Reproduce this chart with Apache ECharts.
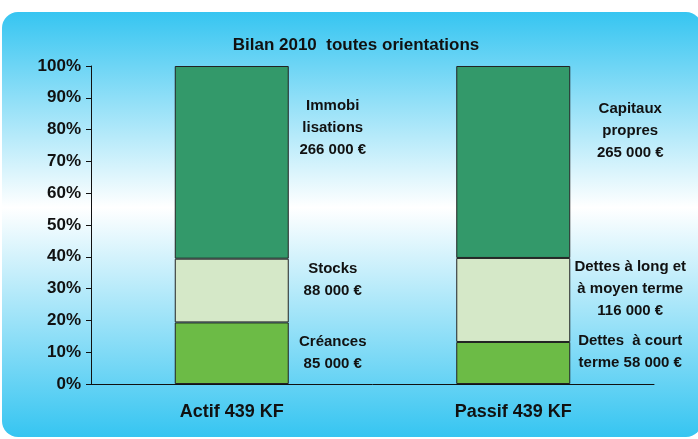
<!DOCTYPE html>
<html>
<head>
<meta charset="utf-8">
<script src="https://cdn.jsdelivr.net/npm/echarts@6/dist/echarts.min.js"></script>
<style>
  html, body { margin: 0; padding: 0; background: #fff; }
  #chart { width: 698px; height: 439px; }
</style>
</head>
<body>
<div id="chart"></div>
<script>
// bilan en milliers d'euros
const categories = ['Actif 439 KF', 'Passif 439 KF'];
const bottomValues = [85, 58];    // créances / dettes à court terme
const middleValues = [88, 116];   // stocks / dettes à long et moyen terme
const topValues = [266, 265];     // immobilisations / capitaux propres
const bottomLabels = ['Créances\n85 000 €', 'Dettes  à court\nterme 58 000 €'];
const middleLabels = ['Stocks\n88 000 €', 'Dettes à long et\nà moyen terme\n116 000 €'];
const topLabels = ['Immobi\nlisations\n266 000 €', 'Capitaux\npropres\n265 000 €'];
const yTicks = [0, 10, 20, 30, 40, 50, 60, 70, 80, 90, 100];

const FONT = 'Liberation Sans, Arial, sans-serif';

const totals = categories.map((c, i) => bottomValues[i] + middleValues[i] + topValues[i]);
const pct = (arr) => arr.map((v, i) => v / totals[i] * 100);

// label placement next to each segment
const labelDist = [44, 60];
const labelShift = {
  bottom: [0, -11],
  middle: [-11, -11],
  top: [-34, -31]
};

function makeData(values, labels, key) {
  return pct(values).map((v, i) => ({
    value: v,
    label: {
      show: true,
      position: 'right',
      distance: labelDist[i],
      align: 'center',
      verticalAlign: 'middle',
      offset: [0, labelShift[key][i]],
      formatter: labels[i],
      color: '#111',
      fontWeight: 'bold',
      fontSize: 15,
      lineHeight: 22,
      fontFamily: FONT
    }
  }));
}

const chart = echarts.init(document.getElementById('chart'));

const option = {
  animation: false,
  graphic: [{
    type: 'rect',
    z: -10,
    silent: true,
    shape: { x: 2, y: 12, width: 700, height: 425, r: 16 },
    style: {
      fill: new echarts.graphic.LinearGradient(0, 0, 0, 1, [
        { offset: 0, color: '#36c5f1' },
        { offset: 0.46, color: '#ffffff' },
        { offset: 1, color: '#36c5f1' }
      ])
    }
  }],
  title: {
    text: 'Bilan 2010  toutes orientations',
    left: 351,
    textAlign: 'center',
    top: 32,
    textStyle: {
      fontSize: 17,
      fontWeight: 'bold',
      color: '#111',
      fontFamily: FONT
    }
  },
  grid: { left: 91, right: 44, top: 66, bottom: 55 },
  xAxis: {
    type: 'category',
    data: categories,
    axisLine: { lineStyle: { color: '#111', width: 1 } },
    axisTick: { length: 5, lineStyle: { color: '#111' } },
    axisLabel: {
      margin: 19,
      color: '#111',
      fontSize: 18,
      fontWeight: 'bold',
      fontFamily: FONT
    }
  },
  yAxis: {
    type: 'value',
    min: yTicks[0],
    max: yTicks[yTicks.length - 1],
    interval: 10,
    splitLine: { show: false },
    axisLine: { show: true, lineStyle: { color: '#111', width: 1 } },
    axisTick: { show: true, length: 5, lineStyle: { color: '#111' } },
    axisLabel: {
      formatter: '{value}%',
      margin: 10,
      color: '#111',
      fontSize: 17,
      fontWeight: 'bold',
      fontFamily: FONT
    }
  },
  series: [
    {
      type: 'bar',
      stack: 'bilan',
      barWidth: 114,
      data: makeData(bottomValues, bottomLabels, 'bottom'),
      itemStyle: { color: '#6cbb46', borderColor: '#222', borderWidth: 1 }
    },
    {
      type: 'bar',
      stack: 'bilan',
      barWidth: 114,
      data: makeData(middleValues, middleLabels, 'middle'),
      itemStyle: { color: '#d5e8c8', borderColor: '#222', borderWidth: 1 }
    },
    {
      type: 'bar',
      stack: 'bilan',
      barWidth: 114,
      data: makeData(topValues, topLabels, 'top'),
      itemStyle: { color: '#33996a', borderColor: '#222', borderWidth: 1 }
    }
  ]
};

chart.setOption(option);
</script>
</body>
</html>
